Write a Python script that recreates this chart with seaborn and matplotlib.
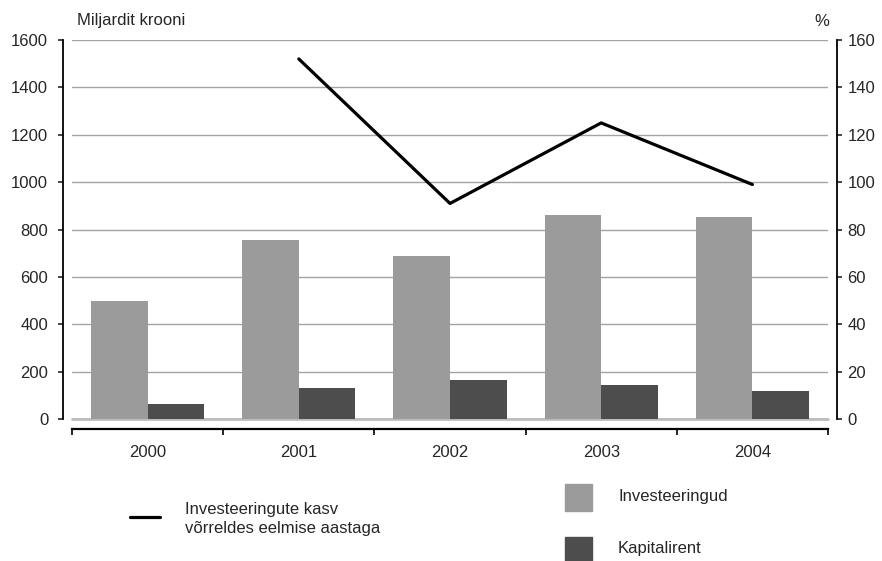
import numpy as np
import pandas as pd
import matplotlib.pyplot as plt
import seaborn as sns
from matplotlib.patches import Rectangle
from matplotlib.lines import Line2D

# Andmed (loetud jooniselt)
years = ["2000", "2001", "2002", "2003", "2004"]
investeeringud = [498, 755, 688, 861, 851]
kapitalirent = [63, 131, 165, 143, 118]
kasv = [np.nan, 152, 91, 125, 99]

series_names = ["Investeeringud", "Kapitalirent"]
colors = ["#9b9b9b", "#4d4d4d"]

df = pd.DataFrame({
    "year": years * 2,
    "value": investeeringud + kapitalirent,
    "series": [series_names[0]] * len(years) + [series_names[1]] * len(years),
})
df_line = pd.DataFrame({"pos": np.arange(len(years)), "kasv": kasv})

sns.set_style("white")
plt.rcParams["font.family"] = ["Liberation Sans", "DejaVu Sans"]
FS = 12

fig = plt.figure(figsize=(8.82, 5.61), dpi=100)
ax = fig.add_axes([72 / 882, 1 - 419 / 561, (828 - 72) / 882, (419 - 40) / 561])

sns.barplot(data=df, x="year", y="value", hue="series", palette=colors,
            width=0.75, gap=0, errorbar=None, legend=False, ax=ax,
            saturation=1, linewidth=0)

ax.set_xlim(-0.5, len(years) - 0.5)
ax.set_ylim(0, 1600)
ax.set_yticks(range(0, 1601, 200))
ax.yaxis.grid(True, color="#a3a3a3", linewidth=1)
ax.set_axisbelow(True)
# heledam nulljoon
ax.axhline(0, color="#bdbdbd", linewidth=2, clip_on=False, zorder=0.5)
ax.set_xlabel("")
ax.set_ylabel("")

# x-telg: kriipsud kategooriate piiridel, sildid keskel
ax.set_xticks(np.arange(-0.5, len(years), 1.0))
ax.set_xticklabels([])
ax.set_xticks(np.arange(len(years)), minor=True)
ax.set_xticklabels(years, minor=True)
ax.tick_params(axis="x", which="major", bottom=True, direction="out", length=4.5, width=1.2, color="black")
ax.tick_params(axis="x", which="minor", bottom=True, length=0, pad=12, labelsize=FS)
ax.tick_params(axis="y", direction="out", length=3.6, width=1.2, pad=7, labelsize=FS, left=True)

for s in ["top", "right"]:
    ax.spines[s].set_visible(False)
ax.spines["left"].set_position(("outward", 6.5))
ax.spines["bottom"].set_position(("outward", 7))
ax.spines["left"].set_linewidth(1.3)
ax.spines["bottom"].set_linewidth(1.6)
ax.spines["left"].set_color("black")
ax.spines["bottom"].set_color("black")

ax2 = ax.twinx()
sns.lineplot(data=df_line, x="pos", y="kasv", color="black", linewidth=2.3, ax=ax2)
ax2.set_ylim(0, 160)
ax2.set_yticks(range(0, 161, 20))
ax2.set_xlim(-0.5, len(years) - 0.5)
ax2.set_xlabel("")
ax2.set_ylabel("")
ax2.grid(False)
for s in ["top", "left", "bottom"]:
    ax2.spines[s].set_visible(False)
ax2.spines["right"].set_position(("outward", 6.5))
ax2.spines["right"].set_linewidth(1.3)
ax2.spines["right"].set_color("black")
ax2.tick_params(axis="y", direction="out", length=3.6, width=1.2, pad=4, labelsize=FS, right=True)

fig.text(77 / 882, 1 - 20 / 561, "Miljardit krooni", ha="left", va="center", fontsize=FS)
fig.text(822 / 882, 1 - 22 / 561, "%", ha="center", va="center", fontsize=FS)

# Legend
W, H = 882, 561
fig.add_artist(Line2D([130 / W, 160 / W], [1 - 517 / H, 1 - 517 / H], color="black", linewidth=2.3))
fig.text(185 / W, 1 - 519 / H, "Investeeringute kasv\nvõrreldes eelmise aastaga",
         ha="left", va="center", fontsize=FS, linespacing=1.35)
fig.add_artist(Rectangle((565 / W, 1 - 511 / H), 27 / W, 27 / H, color=colors[0], transform=fig.transFigure))
fig.add_artist(Rectangle((565 / W, 1 - 561 / H), 27 / W, 24 / H, color=colors[1], transform=fig.transFigure))
fig.text(618 / W, 1 - 497 / H, series_names[0], ha="left", va="center", fontsize=FS)
fig.text(618 / W, 1 - 549 / H, series_names[1], ha="left", va="center", fontsize=FS)

fig.savefig("out.png", dpi=100)
